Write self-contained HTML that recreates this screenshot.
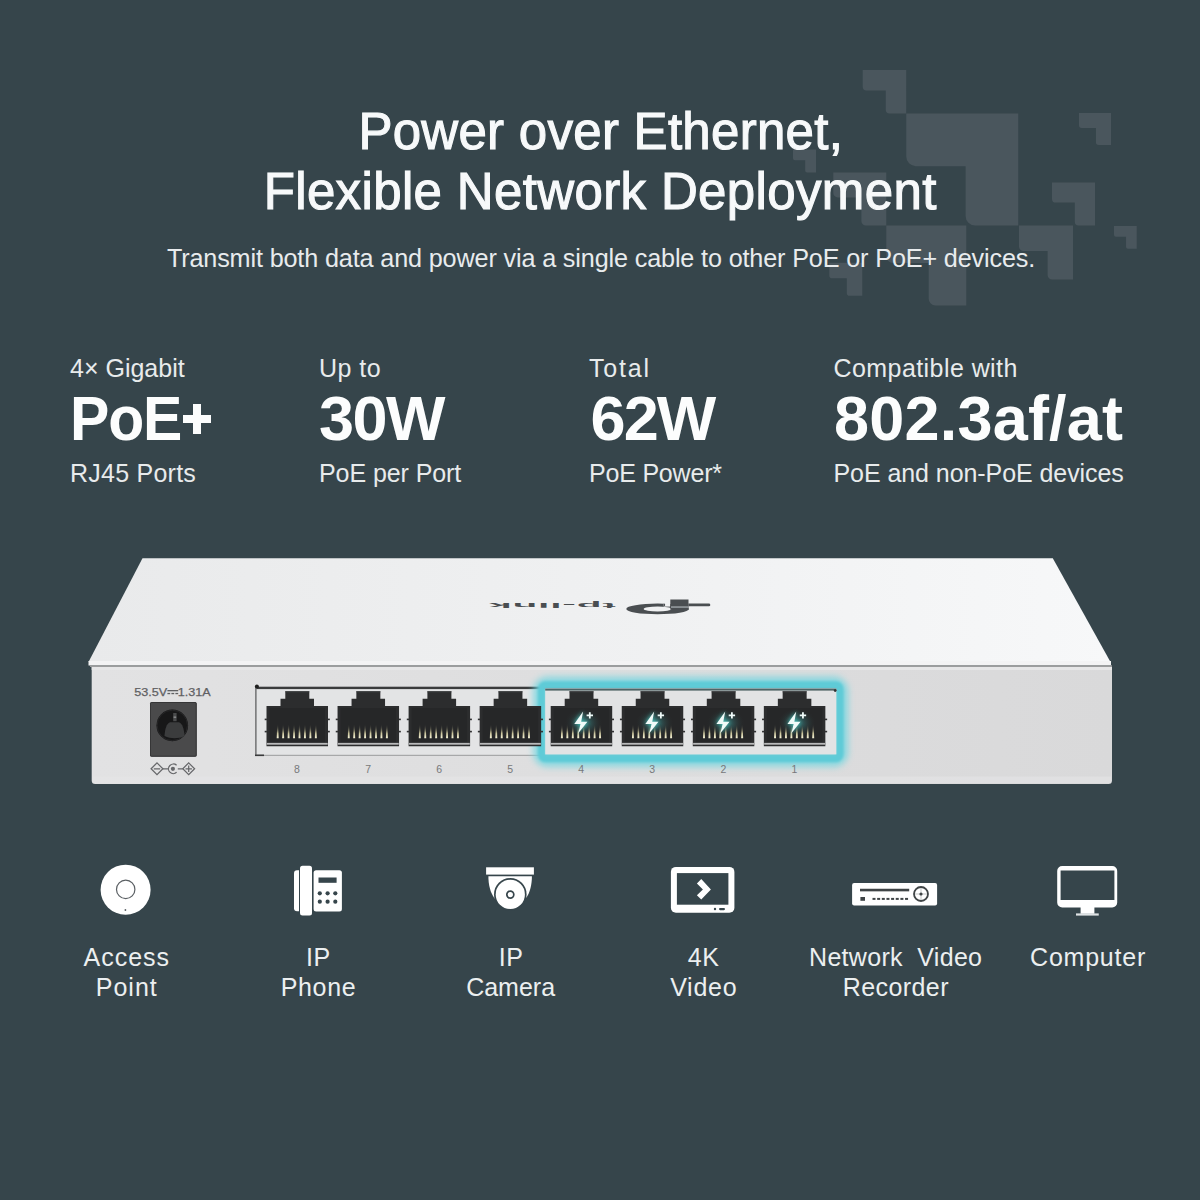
<!DOCTYPE html>
<html><head><meta charset="utf-8">
<style>
html,body{margin:0;padding:0;}
body{width:1200px;height:1200px;overflow:hidden;background:#36454b;position:relative;font-family:"Liberation Sans",sans-serif;}
.a{position:absolute;white-space:nowrap;line-height:1;}
svg.l{position:absolute;left:0;top:0;}
</style></head>
<body>
<svg class="l" width="1200" height="1200" viewBox="0 0 1200 1200"><g fill="#4a565d"><path d="M862.70,70.00H906.20V113.50H889.45A3.70,3.70 0 0 1 885.75,109.80V90.44H866.40A3.70,3.70 0 0 1 862.70,86.75Z"/><path d="M906.25,113.50H1018.25V225.50H975.13A9.52,9.52 0 0 1 965.61,215.98V166.14H915.77A9.52,9.52 0 0 1 906.25,156.62Z"/><path d="M1079.00,113.00H1111.00V145.00H1098.68A2.72,2.72 0 0 1 1095.96,142.28V128.04H1081.72A2.72,2.72 0 0 1 1079.00,125.32Z"/><path d="M1052.00,182.40H1095.00V225.40H1078.44A3.66,3.66 0 0 1 1074.79,221.75V202.61H1055.65A3.66,3.66 0 0 1 1052.00,198.96Z"/><path d="M1114.00,226.00H1136.70V248.70H1127.96A1.93,1.93 0 0 1 1126.03,246.77V236.67H1115.93A1.93,1.93 0 0 1 1114.00,234.74Z"/><path d="M1019.00,225.60H1073.00V279.60H1052.21A4.59,4.59 0 0 1 1047.62,275.01V250.98H1023.59A4.59,4.59 0 0 1 1019.00,246.39Z"/><path d="M793.00,149.50H816.00V172.50H807.15A1.96,1.96 0 0 1 805.19,170.54V160.31H794.96A1.96,1.96 0 0 1 793.00,158.35Z"/><path d="M833.30,172.50H886.30V225.50H865.89A4.50,4.50 0 0 1 861.39,221.00V197.41H837.80A4.50,4.50 0 0 1 833.30,192.91Z"/><path d="M886.30,225.50H966.30V305.50H935.50A6.80,6.80 0 0 1 928.70,298.70V263.10H893.10A6.80,6.80 0 0 1 886.30,256.30Z"/><path d="M829.30,262.70H862.30V295.70H849.59A2.81,2.81 0 0 1 846.79,292.89V278.21H832.10A2.81,2.81 0 0 1 829.30,275.40Z"/></g></svg>
<div class="a" style="top:105.72px;font-size:51px;font-weight:400;letter-spacing:0.28px;color:#f7f9fa;-webkit-text-stroke:1.1px #f7f9fa;left:0.50px;width:1200px;text-align:center;padding-left:0.28px;">Power over Ethernet,</div>
<div class="a" style="top:165.72px;font-size:51px;font-weight:400;letter-spacing:0.36px;color:#f7f9fa;-webkit-text-stroke:1.1px #f7f9fa;left:-0.20px;width:1200px;text-align:center;padding-left:0.36px;">Flexible Network Deployment</div>
<div class="a" style="top:245.66px;font-size:25.2px;font-weight:400;letter-spacing:-0.14px;color:#e8ebed;left:1.00px;width:1200px;text-align:center;padding-left:-0.14px;">Transmit both data and power via a single cable to other PoE or PoE+ devices.</div>
<div class="a" style="top:355.93px;font-size:25px;font-weight:400;letter-spacing:0.0px;color:#e8ebec;left:70.00px;">4× Gigabit</div>
<div class="a" style="top:386.96px;font-size:63px;font-weight:700;letter-spacing:-1.2px;color:#fcfdfd;transform:scaleX(0.936);transform-origin:0 0;left:70.00px;">PoE</div>
<div class="a" style="left:193px;top:404.3px;width:8px;height:30px;background:#fcfdfd"></div><div class="a" style="left:183px;top:415px;width:28px;height:8px;background:#fcfdfd"></div>
<div class="a" style="top:460.53px;font-size:25px;font-weight:400;letter-spacing:0.24px;color:#e8ebec;left:70.00px;">RJ45 Ports</div>
<div class="a" style="top:355.93px;font-size:25px;font-weight:400;letter-spacing:0.45px;color:#e8ebec;left:319.00px;">Up to</div>
<div class="a" style="top:386.96px;font-size:63px;font-weight:700;letter-spacing:-1.5px;color:#fcfdfd;left:319.00px;">30W</div>
<div class="a" style="top:460.53px;font-size:25px;font-weight:400;letter-spacing:-0.08px;color:#e8ebec;left:319.00px;">PoE per Port</div>
<div class="a" style="top:355.93px;font-size:25px;font-weight:400;letter-spacing:1.8px;color:#e8ebec;left:589.00px;">Total</div>
<div class="a" style="top:386.96px;font-size:63px;font-weight:700;letter-spacing:-1.9px;color:#fcfdfd;left:590.50px;">62W</div>
<div class="a" style="top:460.53px;font-size:25px;font-weight:400;letter-spacing:-0.2px;color:#e8ebec;left:589.00px;">PoE Power*</div>
<div class="a" style="top:355.93px;font-size:25px;font-weight:400;letter-spacing:0.43px;color:#e8ebec;left:833.50px;">Compatible with</div>
<div class="a" style="top:386.96px;font-size:63px;font-weight:700;letter-spacing:0.2px;color:#fcfdfd;left:834.00px;">802.3af/at</div>
<div class="a" style="top:460.53px;font-size:25px;font-weight:400;letter-spacing:-0.07px;color:#e8ebec;left:833.50px;">PoE and non-PoE devices</div>
<div class="a" style="top:944.83px;font-size:25px;font-weight:400;letter-spacing:1.0px;color:#eceff0;left:-474.25px;width:1200px;text-align:center;padding-left:1.0px;">Access</div>
<div class="a" style="top:974.53px;font-size:25px;font-weight:400;letter-spacing:1.0px;color:#eceff0;left:-474.25px;width:1200px;text-align:center;padding-left:1.0px;">Point</div>
<div class="a" style="top:944.83px;font-size:25px;font-weight:400;letter-spacing:0.6px;color:#eceff0;left:-282.20px;width:1200px;text-align:center;padding-left:0.6px;">IP</div>
<div class="a" style="top:974.53px;font-size:25px;font-weight:400;letter-spacing:0.67px;color:#eceff0;left:-282.20px;width:1200px;text-align:center;padding-left:0.67px;">Phone</div>
<div class="a" style="top:944.83px;font-size:25px;font-weight:400;letter-spacing:0.6px;color:#eceff0;left:-89.40px;width:1200px;text-align:center;padding-left:0.6px;">IP</div>
<div class="a" style="top:974.53px;font-size:25px;font-weight:400;letter-spacing:0.0px;color:#eceff0;left:-89.40px;width:1200px;text-align:center;padding-left:0.0px;">Camera</div>
<div class="a" style="top:944.83px;font-size:25px;font-weight:400;letter-spacing:0.6px;color:#eceff0;left:103.00px;width:1200px;text-align:center;padding-left:0.6px;">4K</div>
<div class="a" style="top:974.53px;font-size:25px;font-weight:400;letter-spacing:0.75px;color:#eceff0;left:103.00px;width:1200px;text-align:center;padding-left:0.75px;">Video</div>
<div class="a" style="top:944.83px;font-size:25px;font-weight:400;letter-spacing:0.3px;color:#eceff0;left:295.40px;width:1200px;text-align:center;padding-left:0.3px;">Network&#160; Video</div>
<div class="a" style="top:974.53px;font-size:25px;font-weight:400;letter-spacing:0.43px;color:#eceff0;left:295.40px;width:1200px;text-align:center;padding-left:0.43px;">Recorder</div>
<div class="a" style="top:944.83px;font-size:25px;font-weight:400;letter-spacing:0.77px;color:#eceff0;left:487.30px;width:1200px;text-align:center;padding-left:0.77px;">Computer</div>

<svg class="l" width="1200" height="1200" viewBox="0 0 1200 1200"><defs><linearGradient id="gtop" x1="0" y1="0" x2="1" y2="0"><stop offset="0" stop-color="#e9eaeb"/><stop offset="0.55" stop-color="#f0f1f2"/><stop offset="1" stop-color="#f7f8f9"/></linearGradient><linearGradient id="gfront" x1="0" y1="0" x2="1" y2="0"><stop offset="0" stop-color="#e2e2e3"/><stop offset="1" stop-color="#d9d9da"/></linearGradient><filter id="blur3" x="-20%" y="-50%" width="140%" height="200%"><feGaussianBlur stdDeviation="3"/></filter><filter id="blur1" x="-10%" y="-30%" width="120%" height="160%"><feGaussianBlur stdDeviation="0.9"/></filter><filter id="blur2" x="-50%" y="-50%" width="200%" height="200%"><feGaussianBlur stdDeviation="2.2"/></filter><radialGradient id="gpin" cx="0.5" cy="1" r="1"><stop offset="0" stop-color="#f0f0d8"/><stop offset="0.45" stop-color="#b9b48a"/><stop offset="1" stop-color="#3a3a30"/></radialGradient><radialGradient id="gglow" cx="0.5" cy="0.5" r="0.5"><stop offset="0" stop-color="#3fa7a6" stop-opacity="0.75"/><stop offset="1" stop-color="#2b2d2d" stop-opacity="0"/></radialGradient><linearGradient id="gpin2" x1="0" y1="1" x2="0" y2="0"><stop offset="0" stop-color="#f4f2d6"/><stop offset="0.35" stop-color="#c9c39a"/><stop offset="1" stop-color="#2c2d2e" stop-opacity="0"/></linearGradient></defs><path d="M142.5,558.3H1052.8L1110.5,662H88.5Z" fill="url(#gtop)"/><rect x="88.5" y="661" width="1022.5" height="4.5" fill="#f3f3f4"/><rect x="90" y="665.2" width="1022" height="1.8" fill="#9c9d9e"/><path d="M91.7,667H1112V780.5A3.5,3.5 0 0 1 1108.5,784H95.2A3.5,3.5 0 0 1 91.7,780.5Z" fill="url(#gfront)"/><rect x="91.7" y="667" width="1020.3" height="3" fill="#e6e6e7"/><rect x="93" y="776.5" width="1018" height="6.5" fill="#e6e6e7" opacity="0.55"/><ellipse cx="657.6" cy="608.9" rx="31.3" ry="5.3" fill="#4a4e51"/><ellipse cx="657.6" cy="609" rx="13.9" ry="2.4" fill="#f0f1f2"/><rect x="663.6" y="602.5" width="6.7" height="4.1" fill="#f0f1f2"/><path d="M663.6,603.5H663.8A1.4,1.4 0 0 1 663.8,606.3H663.6Z" fill="#4a4e51"/><rect x="670.3" y="599.5" width="18.2" height="10.3" fill="#4a4e51"/><rect x="671" y="606.3" width="17.5" height="1.5" fill="#9aa0a3"/><path d="M688.3,603.5H708.9A1.4,1.4 0 0 1 708.9,606.3H688.3Z" fill="#4a4e51"/><text transform="translate(615.8,602.6) rotate(180) scale(2.25,0.45)" font-family="Liberation Sans" font-weight="bold" font-size="18" fill="#4a4e51" textLength="56.3" lengthAdjust="spacing">tp-link</text><text x="134.3" y="695.9" font-family="Liberation Sans" font-size="11.4" fill="#5f6062" stroke="#5f6062" stroke-width="0.25" textLength="76.5" lengthAdjust="spacingAndGlyphs">53.5V&#160;&#160;&#160;1.31A</text><rect x="167.4" y="690.0" width="10.8" height="1.3" fill="#5f6062"/><g fill="#5f6062"><rect x="167.4" y="692.9" width="2.8" height="1.3"/><rect x="171.4" y="692.9" width="2.8" height="1.3"/><rect x="175.4" y="692.9" width="2.8" height="1.3"/></g><rect x="150" y="702" width="46.7" height="54.7" rx="1.5" fill="#4a4a4b"/><rect x="150.5" y="702.5" width="45.7" height="53.7" rx="1.2" fill="none" stroke="#363637" stroke-width="1"/><circle cx="172.3" cy="725.4" r="15.8" fill="#171718"/><circle cx="172.3" cy="725.4" r="15.2" fill="none" stroke="#262627" stroke-width="1"/><path d="M164.5,736 C165,729 166.5,723.5 170,722.3 H179 C182.5,723.5 184,729 184.5,736 C178,739 171,739 164.5,736Z" fill="#3b3c3d"/><rect x="173.2" y="713" width="3.4" height="8.2" fill="#4a4b4c"/><rect x="173.6" y="716.5" width="2.6" height="1.4" fill="#8a8b8c"/><g fill="none" stroke="#66676a" stroke-width="1.25"><path d="M157,762.9 L162.9,768.8 L157,774.7 L151.1,768.8Z"/><path d="M188.7,762.9 L194.6,768.8 L188.7,774.7 L182.8,768.8Z"/><path d="M162.9,768.8H168 M177.8,768.8H182.8"/><path d="M176.6,765.3 A4.8,4.8 0 1 0 176.6,772.3"/><path d="M153.8,768.8H160.2 M185.5,768.8H191.9 M188.7,765.6V772"/></g><circle cx="172.9" cy="768.8" r="2.1" fill="#66676a"/><rect x="255" y="687" width="583" height="69" fill="#e3e4e5"/><rect x="255" y="686.7" width="583" height="2.4" fill="#3a3b3c"/><rect x="255" y="687" width="1.7" height="69" fill="#7e7f80"/><rect x="255" y="754.8" width="583" height="1.1" fill="#a0a1a2"/><rect x="255" y="754.5" width="9" height="1.6" fill="#3a3b3c"/><circle cx="256.9" cy="686.4" r="2" fill="#1e1e1e"/><rect x="541.5" y="684.9" width="298.3" height="73.6" rx="6" fill="none" stroke="#6fd6e0" stroke-width="17" filter="url(#blur3)" opacity="0.75"/><rect x="541.5" y="684.9" width="298.3" height="73.6" rx="4" fill="none" stroke="#5ecbd7" stroke-width="7.5" filter="url(#blur1)"/><rect x="545.2" y="688.4" width="291.1" height="66" fill="#e2e3e4"/><rect x="545.2" y="688.6" width="291.1" height="2" fill="#4f6466"/><circle cx="835.2" cy="690.6" r="1.4" fill="#333"/><path d="M266.5,705.9H280.5V698.8H285.3V691.3H309.3V698.8H314.0V705.9H328.0V746.3H266.5Z" fill="#2c2d2e"/><rect x="285.3" y="691.3" width="24" height="1.0" fill="#3e3f40"/><rect x="269.5" y="708" width="55.5" height="34" fill="#262728"/><rect x="266.8" y="742.9" width="60.9" height="1.8" fill="#b9babb"/><rect x="264.7" y="718.6" width="2.2" height="1.6" fill="#303132"/><rect x="327.6" y="718.6" width="2.2" height="1.6" fill="#303132"/><rect x="264.7" y="730.8" width="2.2" height="1.6" fill="#303132"/><rect x="327.6" y="730.8" width="2.2" height="1.6" fill="#303132"/><path d="M276.70,738.2 L277.25,724 L278.15,724 L278.70,738.2Z" fill="url(#gpin2)"/><path d="M282.15,738.2 L282.70,724 L283.60,724 L284.15,738.2Z" fill="url(#gpin2)"/><path d="M287.60,738.2 L288.15,724 L289.05,724 L289.60,738.2Z" fill="url(#gpin2)"/><path d="M293.05,738.2 L293.60,724 L294.50,724 L295.05,738.2Z" fill="url(#gpin2)"/><path d="M298.50,738.2 L299.05,724 L299.95,724 L300.50,738.2Z" fill="url(#gpin2)"/><path d="M303.95,738.2 L304.50,724 L305.40,724 L305.95,738.2Z" fill="url(#gpin2)"/><path d="M309.40,738.2 L309.95,724 L310.85,724 L311.40,738.2Z" fill="url(#gpin2)"/><path d="M314.85,738.2 L315.40,724 L316.30,724 L316.85,738.2Z" fill="url(#gpin2)"/><path d="M337.55,705.9H351.55V698.8H356.35V691.3H380.35V698.8H385.05V705.9H399.05V746.3H337.55Z" fill="#2c2d2e"/><rect x="356.35" y="691.3" width="24" height="1.0" fill="#3e3f40"/><rect x="340.55" y="708" width="55.5" height="34" fill="#262728"/><rect x="337.85" y="742.9" width="60.9" height="1.8" fill="#b9babb"/><rect x="335.75" y="718.6" width="2.2" height="1.6" fill="#303132"/><rect x="398.65000000000003" y="718.6" width="2.2" height="1.6" fill="#303132"/><rect x="335.75" y="730.8" width="2.2" height="1.6" fill="#303132"/><rect x="398.65000000000003" y="730.8" width="2.2" height="1.6" fill="#303132"/><path d="M347.75,738.2 L348.30,724 L349.20,724 L349.75,738.2Z" fill="url(#gpin2)"/><path d="M353.20,738.2 L353.75,724 L354.65,724 L355.20,738.2Z" fill="url(#gpin2)"/><path d="M358.65,738.2 L359.20,724 L360.10,724 L360.65,738.2Z" fill="url(#gpin2)"/><path d="M364.10,738.2 L364.65,724 L365.55,724 L366.10,738.2Z" fill="url(#gpin2)"/><path d="M369.55,738.2 L370.10,724 L371.00,724 L371.55,738.2Z" fill="url(#gpin2)"/><path d="M375.00,738.2 L375.55,724 L376.45,724 L377.00,738.2Z" fill="url(#gpin2)"/><path d="M380.45,738.2 L381.00,724 L381.90,724 L382.45,738.2Z" fill="url(#gpin2)"/><path d="M385.90,738.2 L386.45,724 L387.35,724 L387.90,738.2Z" fill="url(#gpin2)"/><path d="M408.6,705.9H422.6V698.8H427.40000000000003V691.3H451.40000000000003V698.8H456.1V705.9H470.1V746.3H408.6Z" fill="#2c2d2e"/><rect x="427.40000000000003" y="691.3" width="24" height="1.0" fill="#3e3f40"/><rect x="411.6" y="708" width="55.5" height="34" fill="#262728"/><rect x="408.90000000000003" y="742.9" width="60.9" height="1.8" fill="#b9babb"/><rect x="406.8" y="718.6" width="2.2" height="1.6" fill="#303132"/><rect x="469.70000000000005" y="718.6" width="2.2" height="1.6" fill="#303132"/><rect x="406.8" y="730.8" width="2.2" height="1.6" fill="#303132"/><rect x="469.70000000000005" y="730.8" width="2.2" height="1.6" fill="#303132"/><path d="M418.80,738.2 L419.35,724 L420.25,724 L420.80,738.2Z" fill="url(#gpin2)"/><path d="M424.25,738.2 L424.80,724 L425.70,724 L426.25,738.2Z" fill="url(#gpin2)"/><path d="M429.70,738.2 L430.25,724 L431.15,724 L431.70,738.2Z" fill="url(#gpin2)"/><path d="M435.15,738.2 L435.70,724 L436.60,724 L437.15,738.2Z" fill="url(#gpin2)"/><path d="M440.60,738.2 L441.15,724 L442.05,724 L442.60,738.2Z" fill="url(#gpin2)"/><path d="M446.05,738.2 L446.60,724 L447.50,724 L448.05,738.2Z" fill="url(#gpin2)"/><path d="M451.50,738.2 L452.05,724 L452.95,724 L453.50,738.2Z" fill="url(#gpin2)"/><path d="M456.95,738.2 L457.50,724 L458.40,724 L458.95,738.2Z" fill="url(#gpin2)"/><path d="M479.65,705.9H493.65V698.8H498.45V691.3H522.4499999999999V698.8H527.15V705.9H541.15V746.3H479.65Z" fill="#2c2d2e"/><rect x="498.45" y="691.3" width="24" height="1.0" fill="#3e3f40"/><rect x="482.65" y="708" width="55.5" height="34" fill="#262728"/><rect x="479.95" y="742.9" width="60.9" height="1.8" fill="#b9babb"/><rect x="477.84999999999997" y="718.6" width="2.2" height="1.6" fill="#303132"/><rect x="540.75" y="718.6" width="2.2" height="1.6" fill="#303132"/><rect x="477.84999999999997" y="730.8" width="2.2" height="1.6" fill="#303132"/><rect x="540.75" y="730.8" width="2.2" height="1.6" fill="#303132"/><path d="M489.85,738.2 L490.40,724 L491.30,724 L491.85,738.2Z" fill="url(#gpin2)"/><path d="M495.30,738.2 L495.85,724 L496.75,724 L497.30,738.2Z" fill="url(#gpin2)"/><path d="M500.75,738.2 L501.30,724 L502.20,724 L502.75,738.2Z" fill="url(#gpin2)"/><path d="M506.20,738.2 L506.75,724 L507.65,724 L508.20,738.2Z" fill="url(#gpin2)"/><path d="M511.65,738.2 L512.20,724 L513.10,724 L513.65,738.2Z" fill="url(#gpin2)"/><path d="M517.10,738.2 L517.65,724 L518.55,724 L519.10,738.2Z" fill="url(#gpin2)"/><path d="M522.55,738.2 L523.10,724 L524.00,724 L524.55,738.2Z" fill="url(#gpin2)"/><path d="M528.00,738.2 L528.55,724 L529.45,724 L530.00,738.2Z" fill="url(#gpin2)"/><path d="M550.7,705.9H564.7V698.8H569.5V691.3H593.5V698.8H598.2V705.9H612.2V746.3H550.7Z" fill="#2c2d2e"/><rect x="569.5" y="691.3" width="24" height="1.0" fill="#3e3f40"/><rect x="553.7" y="708" width="55.5" height="34" fill="#262728"/><rect x="551.0" y="742.9" width="60.9" height="1.8" fill="#b9babb"/><rect x="548.9000000000001" y="718.6" width="2.2" height="1.6" fill="#303132"/><rect x="611.8000000000001" y="718.6" width="2.2" height="1.6" fill="#303132"/><rect x="548.9000000000001" y="730.8" width="2.2" height="1.6" fill="#303132"/><rect x="611.8000000000001" y="730.8" width="2.2" height="1.6" fill="#303132"/><ellipse cx="583.7" cy="723" rx="19" ry="15" fill="url(#gglow)"/><path d="M560.90,738.2 L561.45,724 L562.35,724 L562.90,738.2Z" fill="url(#gpin2)"/><path d="M566.35,738.2 L566.90,724 L567.80,724 L568.35,738.2Z" fill="url(#gpin2)"/><path d="M571.80,738.2 L572.35,724 L573.25,724 L573.80,738.2Z" fill="url(#gpin2)"/><path d="M577.25,738.2 L577.80,724 L578.70,724 L579.25,738.2Z" fill="url(#gpin2)"/><path d="M582.70,738.2 L583.25,724 L584.15,724 L584.70,738.2Z" fill="url(#gpin2)"/><path d="M588.15,738.2 L588.70,724 L589.60,724 L590.15,738.2Z" fill="url(#gpin2)"/><path d="M593.60,738.2 L594.15,724 L595.05,724 L595.60,738.2Z" fill="url(#gpin2)"/><path d="M599.05,738.2 L599.60,724 L600.50,724 L601.05,738.2Z" fill="url(#gpin2)"/><g filter="url(#blur2)" opacity="0.9"><path d="M583.1,711.4 L574.3000000000001,724.0 H580.5 L578.1,733.4 L587.4,721.8 H581.2Z" fill="#4fd3c8"/></g><path d="M583.1,711.4 L574.3000000000001,724.0 H580.5 L578.1,733.4 L587.4,721.8 H581.2Z" fill="#f0fbf9"/><path d="M589.8000000000001,712.1999999999999 V718.6 M586.6,715.4 H593.0" stroke="#f0fbf9" stroke-width="1.8"/><path d="M621.75,705.9H635.75V698.8H640.55V691.3H664.55V698.8H669.25V705.9H683.25V746.3H621.75Z" fill="#2c2d2e"/><rect x="640.55" y="691.3" width="24" height="1.0" fill="#3e3f40"/><rect x="624.75" y="708" width="55.5" height="34" fill="#262728"/><rect x="622.05" y="742.9" width="60.9" height="1.8" fill="#b9babb"/><rect x="619.95" y="718.6" width="2.2" height="1.6" fill="#303132"/><rect x="682.85" y="718.6" width="2.2" height="1.6" fill="#303132"/><rect x="619.95" y="730.8" width="2.2" height="1.6" fill="#303132"/><rect x="682.85" y="730.8" width="2.2" height="1.6" fill="#303132"/><ellipse cx="654.75" cy="723" rx="19" ry="15" fill="url(#gglow)"/><path d="M631.95,738.2 L632.50,724 L633.40,724 L633.95,738.2Z" fill="url(#gpin2)"/><path d="M637.40,738.2 L637.95,724 L638.85,724 L639.40,738.2Z" fill="url(#gpin2)"/><path d="M642.85,738.2 L643.40,724 L644.30,724 L644.85,738.2Z" fill="url(#gpin2)"/><path d="M648.30,738.2 L648.85,724 L649.75,724 L650.30,738.2Z" fill="url(#gpin2)"/><path d="M653.75,738.2 L654.30,724 L655.20,724 L655.75,738.2Z" fill="url(#gpin2)"/><path d="M659.20,738.2 L659.75,724 L660.65,724 L661.20,738.2Z" fill="url(#gpin2)"/><path d="M664.65,738.2 L665.20,724 L666.10,724 L666.65,738.2Z" fill="url(#gpin2)"/><path d="M670.10,738.2 L670.65,724 L671.55,724 L672.10,738.2Z" fill="url(#gpin2)"/><g filter="url(#blur2)" opacity="0.9"><path d="M654.15,711.4 L645.35,724.0 H651.55 L649.15,733.4 L658.4499999999999,721.8 H652.25Z" fill="#4fd3c8"/></g><path d="M654.15,711.4 L645.35,724.0 H651.55 L649.15,733.4 L658.4499999999999,721.8 H652.25Z" fill="#f0fbf9"/><path d="M660.85,712.1999999999999 V718.6 M657.65,715.4 H664.05" stroke="#f0fbf9" stroke-width="1.8"/><path d="M692.8,705.9H706.8V698.8H711.5999999999999V691.3H735.5999999999999V698.8H740.3V705.9H754.3V746.3H692.8Z" fill="#2c2d2e"/><rect x="711.5999999999999" y="691.3" width="24" height="1.0" fill="#3e3f40"/><rect x="695.8" y="708" width="55.5" height="34" fill="#262728"/><rect x="693.0999999999999" y="742.9" width="60.9" height="1.8" fill="#b9babb"/><rect x="691.0" y="718.6" width="2.2" height="1.6" fill="#303132"/><rect x="753.9" y="718.6" width="2.2" height="1.6" fill="#303132"/><rect x="691.0" y="730.8" width="2.2" height="1.6" fill="#303132"/><rect x="753.9" y="730.8" width="2.2" height="1.6" fill="#303132"/><ellipse cx="725.8" cy="723" rx="19" ry="15" fill="url(#gglow)"/><path d="M703.00,738.2 L703.55,724 L704.45,724 L705.00,738.2Z" fill="url(#gpin2)"/><path d="M708.45,738.2 L709.00,724 L709.90,724 L710.45,738.2Z" fill="url(#gpin2)"/><path d="M713.90,738.2 L714.45,724 L715.35,724 L715.90,738.2Z" fill="url(#gpin2)"/><path d="M719.35,738.2 L719.90,724 L720.80,724 L721.35,738.2Z" fill="url(#gpin2)"/><path d="M724.80,738.2 L725.35,724 L726.25,724 L726.80,738.2Z" fill="url(#gpin2)"/><path d="M730.25,738.2 L730.80,724 L731.70,724 L732.25,738.2Z" fill="url(#gpin2)"/><path d="M735.70,738.2 L736.25,724 L737.15,724 L737.70,738.2Z" fill="url(#gpin2)"/><path d="M741.15,738.2 L741.70,724 L742.60,724 L743.15,738.2Z" fill="url(#gpin2)"/><g filter="url(#blur2)" opacity="0.9"><path d="M725.1999999999999,711.4 L716.4,724.0 H722.5999999999999 L720.1999999999999,733.4 L729.4999999999999,721.8 H723.3Z" fill="#4fd3c8"/></g><path d="M725.1999999999999,711.4 L716.4,724.0 H722.5999999999999 L720.1999999999999,733.4 L729.4999999999999,721.8 H723.3Z" fill="#f0fbf9"/><path d="M731.9,712.1999999999999 V718.6 M728.6999999999999,715.4 H735.0999999999999" stroke="#f0fbf9" stroke-width="1.8"/><path d="M763.8499999999999,705.9H777.8499999999999V698.8H782.6499999999999V691.3H806.6499999999999V698.8H811.3499999999999V705.9H825.3499999999999V746.3H763.8499999999999Z" fill="#2c2d2e"/><rect x="782.6499999999999" y="691.3" width="24" height="1.0" fill="#3e3f40"/><rect x="766.8499999999999" y="708" width="55.5" height="34" fill="#262728"/><rect x="764.1499999999999" y="742.9" width="60.9" height="1.8" fill="#b9babb"/><rect x="762.05" y="718.6" width="2.2" height="1.6" fill="#303132"/><rect x="824.9499999999999" y="718.6" width="2.2" height="1.6" fill="#303132"/><rect x="762.05" y="730.8" width="2.2" height="1.6" fill="#303132"/><rect x="824.9499999999999" y="730.8" width="2.2" height="1.6" fill="#303132"/><ellipse cx="796.8499999999999" cy="723" rx="19" ry="15" fill="url(#gglow)"/><path d="M774.05,738.2 L774.60,724 L775.50,724 L776.05,738.2Z" fill="url(#gpin2)"/><path d="M779.50,738.2 L780.05,724 L780.95,724 L781.50,738.2Z" fill="url(#gpin2)"/><path d="M784.95,738.2 L785.50,724 L786.40,724 L786.95,738.2Z" fill="url(#gpin2)"/><path d="M790.40,738.2 L790.95,724 L791.85,724 L792.40,738.2Z" fill="url(#gpin2)"/><path d="M795.85,738.2 L796.40,724 L797.30,724 L797.85,738.2Z" fill="url(#gpin2)"/><path d="M801.30,738.2 L801.85,724 L802.75,724 L803.30,738.2Z" fill="url(#gpin2)"/><path d="M806.75,738.2 L807.30,724 L808.20,724 L808.75,738.2Z" fill="url(#gpin2)"/><path d="M812.20,738.2 L812.75,724 L813.65,724 L814.20,738.2Z" fill="url(#gpin2)"/><g filter="url(#blur2)" opacity="0.9"><path d="M796.2499999999999,711.4 L787.4499999999999,724.0 H793.6499999999999 L791.2499999999999,733.4 L800.5499999999998,721.8 H794.3499999999999Z" fill="#4fd3c8"/></g><path d="M796.2499999999999,711.4 L787.4499999999999,724.0 H793.6499999999999 L791.2499999999999,733.4 L800.5499999999998,721.8 H794.3499999999999Z" fill="#f0fbf9"/><path d="M802.9499999999999,712.1999999999999 V718.6 M799.7499999999999,715.4 H806.1499999999999" stroke="#f0fbf9" stroke-width="1.8"/><text x="297.0" y="773" font-family="Liberation Sans" font-size="10.5" fill="#77787a" text-anchor="middle">8</text><text x="368.1" y="773" font-family="Liberation Sans" font-size="10.5" fill="#77787a" text-anchor="middle">7</text><text x="439.1" y="773" font-family="Liberation Sans" font-size="10.5" fill="#77787a" text-anchor="middle">6</text><text x="510.1" y="773" font-family="Liberation Sans" font-size="10.5" fill="#77787a" text-anchor="middle">5</text><text x="581.2" y="773" font-family="Liberation Sans" font-size="10.5" fill="#77787a" text-anchor="middle">4</text><text x="652.2" y="773" font-family="Liberation Sans" font-size="10.5" fill="#77787a" text-anchor="middle">3</text><text x="723.3" y="773" font-family="Liberation Sans" font-size="10.5" fill="#77787a" text-anchor="middle">2</text><text x="794.3" y="773" font-family="Liberation Sans" font-size="10.5" fill="#77787a" text-anchor="middle">1</text><circle cx="125.6" cy="889.7" r="25" fill="#fff"/><circle cx="125.7" cy="889.4" r="9.2" fill="none" stroke="#5a5f63" stroke-width="1.2"/><circle cx="125.4" cy="910" r="0.9" fill="#5a5f63"/><path d="M299,870.2V911.3H297A3,3 0 0 1 294,908.3V873.2A3,3 0 0 1 297,870.2Z" fill="#fff"/><rect x="300" y="865.8" width="12" height="49.6" rx="2.5" fill="#fff"/><rect x="313.6" y="870.2" width="28.3" height="41.4" rx="2.5" fill="#fff"/><rect x="318.5" y="877.5" width="18.1" height="5.3" fill="#36454b"/><circle cx="319.8" cy="893.3" r="2.1" fill="#36454b"/><circle cx="327.6" cy="893.3" r="2.1" fill="#36454b"/><circle cx="335.3" cy="893.3" r="2.1" fill="#36454b"/><circle cx="319.8" cy="901.7" r="2.1" fill="#36454b"/><circle cx="327.6" cy="901.7" r="2.1" fill="#36454b"/><circle cx="335.3" cy="901.7" r="2.1" fill="#36454b"/><rect x="486.1" y="867.3" width="47.8" height="7.3" fill="#fff"/><path d="M488.4,876.3H531.9C531.9,894 524,906 510.2,906C496.4,906 488.4,894 488.4,876.3Z" fill="#fff"/><circle cx="510.3" cy="894.4" r="16.3" fill="#36454b"/><circle cx="510.3" cy="894.4" r="14.6" fill="#fff"/><circle cx="510.3" cy="894.6" r="3.5" fill="none" stroke="#36454b" stroke-width="1.7"/><rect x="670.9" y="866.9" width="63.5" height="45.9" rx="5" fill="#fff"/><rect x="676.9" y="873.1" width="51.5" height="31.6" fill="#36454b"/><path d="M701.25,879L710.9,889.4L701.25,899.4L696.9,895.3L702.9,889.4L696.9,883.4Z" fill="#fff"/><circle cx="715" cy="909" r="1.2" fill="#36454b"/><rect x="719" y="908" width="6" height="2.2" rx="1.1" fill="#36454b"/><rect x="852.1" y="882.9" width="85" height="22.5" rx="2" fill="#fff"/><rect x="860" y="888.75" width="49.2" height="2.6" fill="#3f4446"/><rect x="860.4" y="897" width="4.6" height="3.8" fill="#3f4446"/><rect x="872.50" y="897.9" width="3" height="2" fill="#3f4446"/><rect x="877.15" y="897.9" width="3" height="2" fill="#3f4446"/><rect x="881.80" y="897.9" width="3" height="2" fill="#3f4446"/><rect x="886.45" y="897.9" width="3" height="2" fill="#3f4446"/><rect x="891.10" y="897.9" width="3" height="2" fill="#3f4446"/><rect x="895.75" y="897.9" width="3" height="2" fill="#3f4446"/><rect x="900.40" y="897.9" width="3" height="2" fill="#3f4446"/><rect x="905.05" y="897.9" width="3" height="2" fill="#3f4446"/><circle cx="921" cy="894" r="7" fill="none" stroke="#3f4446" stroke-width="1.8"/><circle cx="921" cy="894" r="1.6" fill="#3f4446"/><path d="M921,888V900M915,894H927" stroke="#3f4446" stroke-width="0.5" opacity="0.6"/><path d="M1062.2,866H1112.2A5,5 0 0 1 1117.2,871V902.5A5,5 0 0 1 1112.2,907.5H1062.2A5,5 0 0 1 1057.2,902.5V871A5,5 0 0 1 1062.2,866Z M1060.6,870.6V900H1114.4V870.6Z" fill="#fff" fill-rule="evenodd"/><rect x="1080.6" y="907" width="13.8" height="6.8" fill="#fff"/><rect x="1076" y="913.4" width="22.75" height="2.2" fill="#dfe3e5"/></svg>
</body></html>
